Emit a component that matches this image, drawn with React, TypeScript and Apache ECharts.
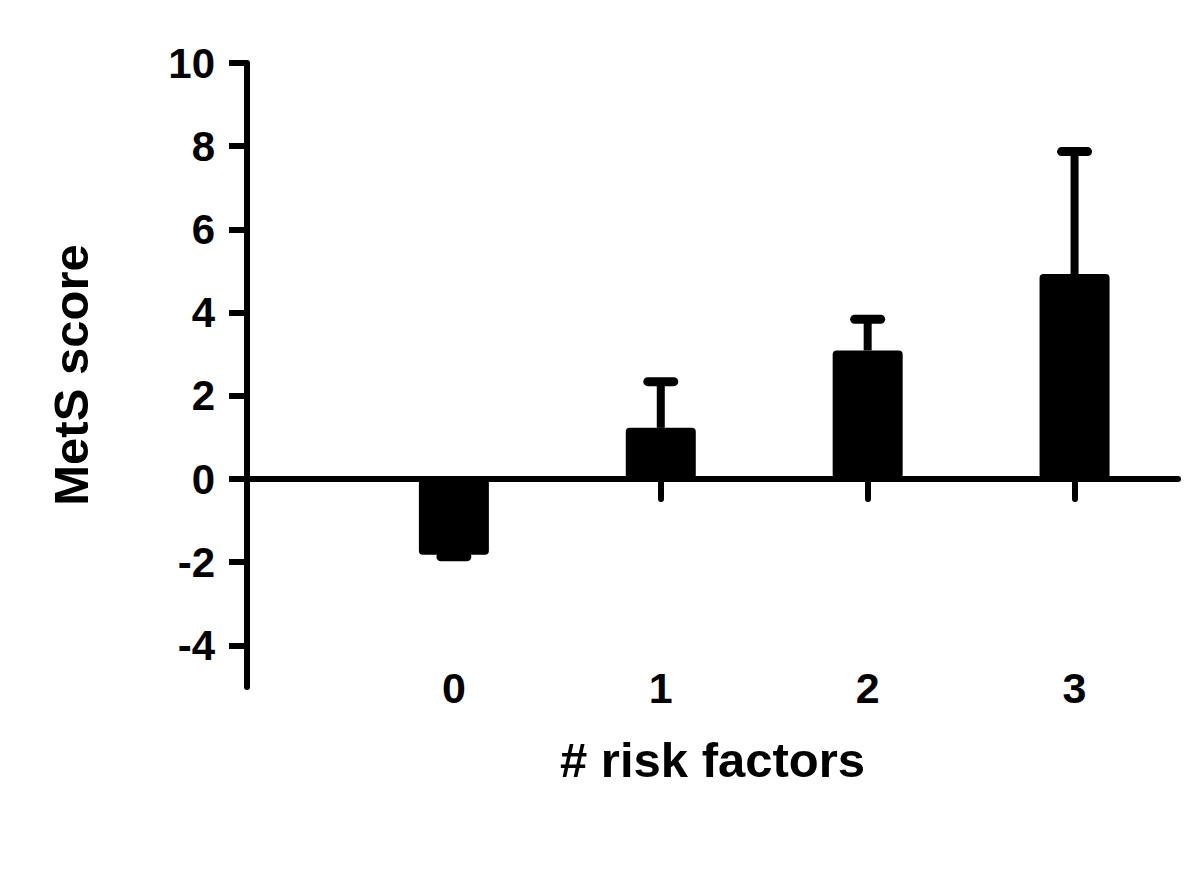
import React, { useEffect, useRef } from "react";
import * as echarts from "echarts";

const categories = ["0", "1", "2", "3"];
const categoryPositions = [1, 2, 3, 4];
const means = [-1.82, 1.23, 3.09, 4.93];
const errorEnds = [-1.87, 2.34, 3.84, 7.87];
const yTicks = [-4, -2, 0, 2, 4, 6, 8, 10];
const yMin = -5;
const yMax = 10;
const xMax = 4.5;
const yTitle = "MetS score";
const xTitle = "# risk factors";

const FONT = "'Liberation Sans', Arial, Helvetica, sans-serif";

export default function App() {
  const ref = useRef<HTMLDivElement>(null);
  useEffect(() => {
    if (!ref.current) return;
    const chart = echarts.init(ref.current, null, { renderer: "svg" });
    const barData = categoryPositions.map((p, i) => [p, means[i]]);
    const errData = categoryPositions.map((p, i) => [p, means[i], errorEnds[i]]);
    chart.setOption({
      animation: false,
      backgroundColor: "#ffffff",
      grid: { left: 247, right: 22, top: 63, bottom: 197 },
      xAxis: [
        {
          type: "value",
          min: 0,
          max: xMax,
          axisLine: {
            show: true,
            onZero: true,
            lineStyle: { color: "#000", width: 6 },
          },
          axisTick: {
            show: true,
            customValues: categoryPositions,
            length: 20,
            inside: false,
            lineStyle: { color: "#000", width: 6, cap: "round" },
          },
          axisLabel: { show: false },
          splitLine: { show: false },
        },
        {
          type: "value",
          position: "bottom",
          min: 0,
          max: xMax,
          axisLine: { show: false, onZero: false },
          axisTick: { show: false },
          splitLine: { show: false },
          axisLabel: {
            show: true,
            customValues: categoryPositions,
            formatter: (v: number) => categories[categoryPositions.indexOf(v)] ?? "",
            margin: -21,
            color: "#000",
            fontFamily: FONT,
            fontWeight: "bold",
            fontSize: 43,
          },
          name: xTitle,
          nameLocation: "middle",
          nameGap: 48,
          nameTextStyle: {
            color: "#000",
            fontFamily: FONT,
            fontWeight: "bold",
            fontSize: 49,
          },
        },
      ],
      yAxis: {
        type: "value",
        min: yMin,
        max: yMax,
        axisLine: {
          show: true,
          onZero: false,
          lineStyle: { color: "#000", width: 6, cap: "round" },
        },
        axisTick: {
          show: true,
          customValues: yTicks,
          length: 18,
          lineStyle: { color: "#000", width: 6 },
        },
        axisLabel: {
          show: true,
          customValues: yTicks,
          margin: 32,
          color: "#000",
          fontFamily: FONT,
          fontWeight: "bold",
          fontSize: 42,
        },
        splitLine: { show: false },
        name: yTitle,
        nameLocation: "middle",
        nameRotate: 90,
        nameGap: 152,
        nameTextStyle: {
          color: "#000",
          fontFamily: FONT,
          fontWeight: "bold",
          fontSize: 49,
        },
      },
      series: [
        {
          type: "bar",
          xAxisIndex: 0,
          data: barData,
          barWidth: 70,
          itemStyle: { color: "#000", borderRadius: 4 },
          z: 2,
        },
        {
          type: "custom",
          xAxisIndex: 0,
          data: errData,
          z: 3,
          renderItem: (params: any, api: any) => {
            const x = api.value(0);
            const start = api.coord([x, api.value(1)]);
            const end = api.coord([x, api.value(2)]);
            return {
              type: "group",
              children: [
                {
                  type: "line",
                  shape: { x1: start[0], y1: start[1], x2: end[0], y2: end[1] },
                  style: { stroke: "#000", lineWidth: 8 },
                },
                {
                  type: "line",
                  shape: { x1: end[0] - 13, y1: end[1], x2: end[0] + 13, y2: end[1] },
                  style: { stroke: "#000", lineWidth: 9, lineCap: "round" },
                },
              ],
            };
          },
        },
      ],
    });
    return () => chart.dispose();
  }, []);
  return (
    <div
      ref={ref}
      style={{ position: "fixed", left: 0, top: 0, width: 1200, height: 884, background: "#fff" }}
    />
  );
}
